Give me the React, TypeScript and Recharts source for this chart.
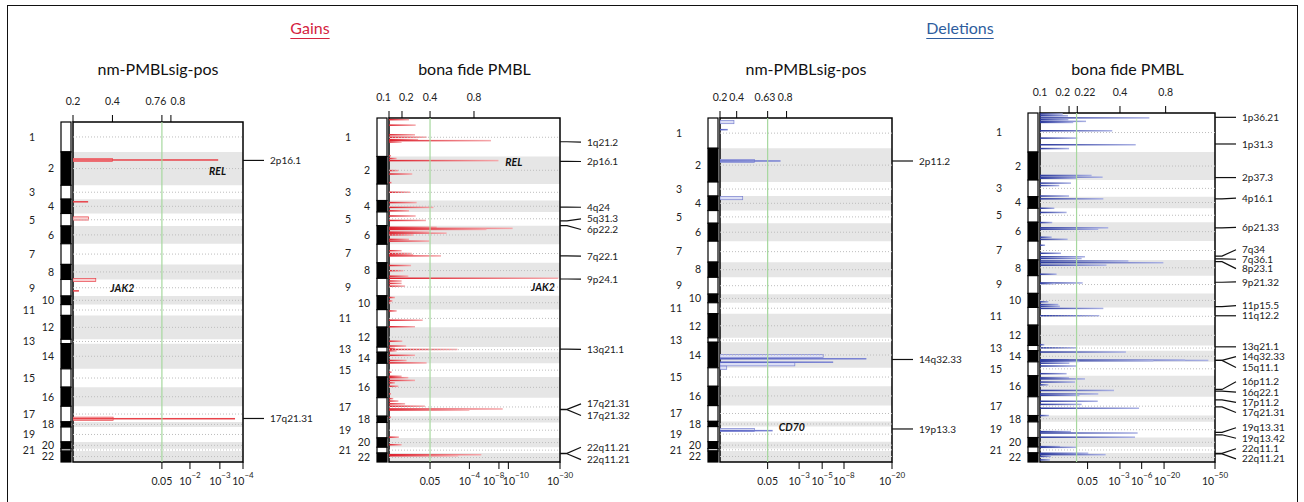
import React from "react";
import { ComposedChart, Bar, XAxis, YAxis, ReferenceArea, ReferenceLine, ReferenceDot } from "recharts";

const chromNames = ["1", "2", "3", "4", "5", "6", "7", "8", "9", "10", "11", "12", "13", "14", "15", "16", "17", "18", "19", "20", "21", "22"];
const nmChromStart = [0, 88, 186, 227, 269, 306, 358, 419, 463, 512, 537, 569, 639, 652, 726, 780, 836, 882, 897, 941, 961, 968];
const bfChromStart = [0, 112, 192, 240, 273, 313, 367, 421, 466, 517, 557, 608, 666, 681, 713, 753, 813, 867, 885, 930, 957, 974];

// x values are in % of the plot width (the q-value / G-score axes are not linear)
// --- Gains, nm-PMBLsig-pos
const gNmPos = [113, 113, 236, 285, 466, 498, 874, 874];
const gNmScore = [23.2, 85.4, 8.9, 9.2, 13.4, 3.5, 23.6, 95.3];
const gNmBroad = [1, 0, 0, 1, 1, 0, 1, 0];
const gNmTopAt = [0, 23.2, 52.3, 57.6];
const gNmTopLabels = ["0.2", "0.4", "0.76", "0.8"];
const gNmQAt = [52.3, 68.8, 86.4, 100];
const gNmQLabels = ["0.05", "10^-2", "10^-3", "10^-4"];
const gNmCut = 52.3;
const gNmPeaks = ["2p16.1", "17q21.31"];
const gNmPeakAt = [113, 872];
const gNmPeakLabelAt = [113, 872];
const gNmGenes = ["REL", "JAK2"];
const gNmGenePos = [144, 490];
const gNmGeneScore = [85, 29];

// --- Gains, bona fide PMBL
const gBfPos = [5, 21, 49, 56, 63, 66, 70, 110, 118, 124, 153, 163, 188, 216, 246, 260, 270, 285, 298, 318, 321, 324, 332, 335, 340, 353, 358, 386, 394, 398, 401, 429, 444, 460, 466, 474, 481, 489, 522, 532, 539, 561, 588, 607, 649, 663, 670, 673, 677, 690, 705, 712, 739, 751, 755, 763, 770, 780, 802, 816, 823, 831, 838, 846, 849, 870, 928, 950, 979, 982];
const gBfScore = [11.7, 15.6, 15.2, 22, 17, 59.6, 7.4, 1.2, 4.5, 64, 5.5, 13.6, 1.6, 12.3, 16.2, 26, 11.7, 15.6, 21.6, 27.9, 72.3, 57, 23.6, 33.7, 14.2, 11.7, 23.6, 7.4, 13.3, 14.2, 30.4, 12.9, 8.4, 11.3, 99, 7.4, 7.4, 9.4, 3.5, 2.1, 0.8, 4.5, 19.7, 15.2, 7.8, 10, 3.5, 40, 4.5, 15.2, 10.3, 22, 1.6, 7.4, 11.3, 15.2, 3.5, 5.5, 1.2, 2.5, 5.5, 9.4, 21, 66.5, 47, 1.2, 5.8, 7.4, 54, 40.5];
const gBfTopAt = [0, 7.6, 24, 49.7];
const gBfTopLabels = ["0.1", "0.2", "0.4", "0.8"];
const gBfQAt = [24, 47, 64.3, 69.8, 100];
const gBfQLabels = ["0.05", "10^-4", "10^-8", "10^-10", "10^-30"];
const gBfCut = 24;
const gBfPeaks = ["1q21.2", "2p16.1", "4q24", "5q31.3", "6p22.2", "7q22.1", "9p24.1", "13q21.1", "17q21.31", "17q21.32", "22q11.21", "22q11.21"];
const gBfPeakAt = [69, 126, 259, 299, 313, 401, 468, 672, 847, 848, 975, 976];
const gBfPeakLabelAt = [70, 126.5, 259.5, 293, 324, 401.5, 468.5, 672.5, 831, 865, 957, 993];
const gBfGenes = ["REL", "JAK2"];
const gBfGenePos = [128, 491];
const gBfGeneScore = [73, 90];

// --- Deletions, nm-PMBLsig-pos
const dNmPos = [12, 34, 125, 125, 233, 692, 716, 726, 700, 710, 907, 909];
const dNmScore = [8.1, 4.5, 20, 35.2, 13.2, 60, 43.5, 3.9, 85.1, 65.8, 20, 30.6];
const dNmBroad = [1, 0, 1, 0, 1, 1, 1, 1, 0, 0, 1, 0];
const dNmTopAt = [0, 9.7, 27.7, 38.7];
const dNmTopLabels = ["0.2", "0.4", "0.63", "0.8"];
const dNmQAt = [27.7, 46, 59.4, 72.1, 100];
const dNmQLabels = ["0.05", "10^-3", "10^-5", "10^-8", "10^-20"];
const dNmCut = 27.7;
const dNmPeaks = ["2p11.2", "14q32.33", "19p13.3"];
const dNmPeakAt = [125, 702, 904];
const dNmPeakLabelAt = [125, 702, 904];
const dNmGenes = ["CD70"];
const dNmGenePos = [899];
const dNmGeneScore = [41.8];

// --- Deletions, bona fide PMBL
const dBfPos = [3, 8, 14, 19, 24, 27, 51, 72, 91, 102, 179, 184, 187, 201, 208, 238, 246, 273, 285, 314, 329, 333, 356, 362, 379, 402, 412, 417, 424, 429, 436, 462, 487, 489, 541, 549, 554, 560, 581, 664, 673, 685, 707, 709, 708, 710, 712, 717, 725, 747, 759, 762, 771, 779, 795, 805, 809, 826, 835, 846, 867, 913, 917, 929, 956, 958, 975, 979, 984, 994];
const dBfScore = [13, 16, 62.5, 16.2, 26.3, 19, 41.3, 21.3, 54.7, 16.6, 29.5, 35.8, 20.6, 17.7, 11, 16.6, 36.2, 8.2, 15.2, 7, 39, 33.3, 6.7, 15.8, 2.9, 12, 25.7, 23.8, 50.5, 70.5, 38, 9.5, 24.4, 8.6, 4.8, 10.5, 11.4, 36.2, 33.9, 2.5, 21.3, 49.1, 16.6, 96.2, 82.9, 64.8, 22.5, 16.8, 21, 15.2, 16.6, 25.7, 20, 4.8, 42.3, 33.3, 22.5, 33, 23.8, 56.6, 5.1, 17.7, 55.8, 54.3, 11.4, 20.6, 27.6, 37.5, 6.3, 5.7];
const dBfTopAt = [0, 16.6, 21.3, 45.7, 71.8];
const dBfTopLabels = ["0.1", "0.2", "0.22", "0.4", "0.8"];
const dBfQAt = [27.2, 45.7, 58.1, 70.9, 100];
const dBfQLabels = ["0.05", "10^-3", "10^-6", "10^-20", "10^-50"];
const dBfCut = 20.9;
const dBfPeaks = ["1p36.21", "1p31.3", "2p37.3", "4p16.1", "6p21.33", "7q34", "7q36.1", "8p23.1", "9p21.32", "11p15.5", "11q12.2", "13q21.1", "14q32.33", "15q11.1", "16p11.2", "16q22.1", "17p11.2", "17q21.31", "19q13.31", "19q13.42", "22q11.1", "22q11.21"];
const dBfPeakAt = [12.4, 88.8, 185, 246, 329, 410, 418, 426, 485, 555, 581, 670, 709, 709, 792, 797, 822, 842, 915, 922, 975, 977];
const dBfPeakLabelAt = [12.4, 88.8, 185, 244, 327.6, 392, 419, 446, 484, 552, 581, 670, 698, 729, 770, 800, 829, 858, 902, 932, 962, 991];

const FONT = "Lato, 'Open Sans', sans-serif";

type Cfg = {
  left: number; top: number; w: number; h: number;
  starts: number[]; pos: number[]; score: number[]; broad?: number[];
  topAt: number[]; topLabels: string[]; topNudge: number[];
  qAt: number[]; qLabels: string[]; qNudge: number[]; cut: number;
  peaks: string[]; peakAt: number[]; peakLabelAt: number[];
  genes: string[]; genePos: number[]; geneScore: number[];
  line: string; fill: string; dark: string; light: string; gid: string;
};

const YW = 60, ML = 10, MR = 100, XH = 30;

function Panel({ c }: { c: Cfg }) {
  const ends = c.starts.slice(1).concat(1000);
  const mids = c.starts.map((s, i) => (s + ends[i]) / 2);
  const per = c.h / 1000;
  const pl = ML + YW;
  const rows = c.pos.map((p, i) => ({ pos: p, score: c.score[i], broad: c.broad ? c.broad[i] : 0 }));

  const spike = (p: any) => {
    const cy = p.y + p.height / 2;
    if (!p.width || p.width <= 0) return <g />;
    if (p.payload.broad)
      return <rect x={p.x} y={cy - 1.6} width={p.width} height={3.2} fill={c.fill} stroke={c.line} strokeWidth={0.7} />;
    return <rect x={p.x} y={cy - 0.75} width={p.width} height={1.5} fill={`url(#${c.gid})`} />;
  };

  const chromTick = (p: any) => {
    const i = mids.indexOf(p.payload.value);
    if (i < 0) return <g />;
    const y0 = p.y - (mids[i] - c.starts[i]) * per;
    const hh = (ends[i] - c.starts[i]) * per;
    const even = i % 2 === 1;
    return (
      <g>
        <rect x={pl - 12} y={y0} width={10} height={hh} fill={even ? "#000" : "#fff"} stroke="#000" strokeWidth={1.2} />
        <text x={even ? pl - 19 : pl - 38} y={p.y} dy="0.36em" textAnchor="end" fontSize={10.5} fill="#222">
          {chromNames[i]}
        </text>
      </g>
    );
  };

  const qTick = (p: any) => {
    const i = c.qAt.indexOf(p.payload.value);
    const lab = i >= 0 ? c.qLabels[i] : "";
    const x = p.x + (i >= 0 ? c.qNudge[i] : 0);
    const y = c.top + c.h + 23;
    if (lab.includes("^")) {
      const [base, exp] = lab.split("^");
      return (
        <text x={x} y={y} textAnchor="middle" fontSize={10.5} fill="#222">
          <tspan>{base}</tspan>
          <tspan dy={-7} fontSize={8}>{exp.replace("-", "\u2212")}</tspan>
        </text>
      );
    }
    return <text x={x} y={y} textAnchor="middle" fontSize={10.5} fill="#222">{lab}</text>;
  };

  const width = pl + c.w + MR;
  return (
    <div style={{ position: "absolute", left: c.left - pl, top: 0 }}>
      <ComposedChart
        width={width}
        height={502}
        data={rows}
        layout="vertical"
        margin={{ top: c.top, bottom: 502 - c.top - c.h - XH, left: ML, right: MR }}
      >
        <defs>
          <linearGradient id={c.gid} x1="0" y1="0" x2="1" y2="0">
            <stop offset="0%" stopColor={c.dark} />
            <stop offset="100%" stopColor={c.light} />
          </linearGradient>
        </defs>
        <XAxis type="number" domain={[0, 100]} ticks={c.qAt} interval={0} axisLine={false} tickSize={7}
          tickLine={{ stroke: "#000" }} tick={qTick} height={XH} allowDataOverflow />
        <YAxis type="number" dataKey="pos" domain={[0, 1000]} ticks={mids} interval={0}
          axisLine={false} tickLine={false} tick={chromTick} width={YW} allowDataOverflow />
        {c.starts.map((s, i) =>
          i % 2 === 1 ? (
            <ReferenceArea key={"band" + i} y1={s} y2={ends[i]} fill="#e6e6e6" fillOpacity={1} stroke="none" />
          ) : null
        )}
        {mids.map((m, i) => (
          <ReferenceLine key={"mid" + i} y={m} stroke="#bdbdbd" strokeDasharray="1 2" strokeWidth={1} />
        ))}
        <ReferenceLine x={c.cut} stroke="#a6d89e" strokeWidth={1.2} />
        <Bar dataKey="score" barSize={2} shape={spike} isAnimationActive={false} />
        {c.genes.map((g, i) => (
          <ReferenceDot key={"gene" + i} x={c.geneScore[i]} y={c.genePos[i]} r={1}
            shape={(s: any) => (
              <text x={s.cx} y={s.cy} dy="0.36em" textAnchor="middle" fontSize={10.5} fontWeight={700}
                fontStyle="italic" fill="#111">{g}</text>
            )} />
        ))}
        {/* G-score axis along the top */}
        {c.topAt.map((t, i) => (
          <ReferenceDot key={"top" + i} x={t} y={0} r={1} ifOverflow="visible"
            shape={(s: any) => (
              <g>
                <line x1={s.cx} x2={s.cx} y1={s.cy} y2={s.cy - 7} stroke="#000" strokeWidth={1} />
                <text x={s.cx + c.topNudge[i]} y={s.cy - 17.5} textAnchor="middle" fontSize={10.5} fill="#222">
                  {c.topLabels[i]}
                </text>
              </g>
            )} />
        ))}
        {/* peak cytoband labels on the right */}
        {c.peaks.map((name, i) => (
          <ReferenceDot key={"peak" + i} x={100} y={c.peakAt[i]} r={1} ifOverflow="visible"
            shape={(s: any) => {
              const ly = s.cy + (c.peakLabelAt[i] - c.peakAt[i]) * per;
              return (
                <g>
                  <path d={`M${s.cx},${s.cy}H${s.cx + 7}L${s.cx + 21},${ly}`} stroke="#111" strokeWidth={1.2} fill="none" />
                  <text x={s.cx + 27} y={ly} dy="0.36em" fontSize={10} fill="#222">{name}</text>
                </g>
              );
            }} />
        ))}
        <ReferenceArea x1={0} x2={100} y1={0} y2={1000} fill="none" stroke="#000" strokeWidth={1.5} ifOverflow="visible" />
      </ComposedChart>
    </div>
  );
}

const red = { line: "#e8434a", fill: "#fad0d1", dark: "#dd1f2b", light: "#f5a9ac" };
const blue = { line: "#7a82d0", fill: "#dcdff5", dark: "#2a389c", light: "#aab1e4" };

const panels: Cfg[] = [
  { left: 73, top: 122, w: 170, h: 340, starts: nmChromStart, pos: gNmPos, score: gNmScore, broad: gNmBroad,
    topAt: gNmTopAt, topLabels: gNmTopLabels, topNudge: [0, 0, -6, 7],
    qAt: gNmQAt, qLabels: gNmQLabels, qNudge: [0, 0, 0, 0], cut: gNmCut,
    peaks: gNmPeaks, peakAt: gNmPeakAt, peakLabelAt: gNmPeakLabelAt, genes: gNmGenes, genePos: gNmGenePos,
    geneScore: gNmGeneScore, ...red, dark: "#e8434a", light: "#e8434a", gid: "g1" },
  { left: 389, top: 118, w: 171, h: 344, starts: bfChromStart, pos: gBfPos, score: gBfScore,
    topAt: gBfTopAt, topLabels: gBfTopLabels, topNudge: [-5.5, 4.3, 0, 0],
    qAt: gBfQAt, qLabels: gBfQLabels, qNudge: [0, 0, -5.3, 7.5, 0], cut: gBfCut,
    peaks: gBfPeaks, peakAt: gBfPeakAt, peakLabelAt: gBfPeakLabelAt, genes: gBfGenes, genePos: gBfGenePos,
    geneScore: gBfGeneScore, ...red, gid: "g2" },
  { left: 720, top: 118, w: 172, h: 344, starts: nmChromStart, pos: dNmPos, score: dNmScore, broad: dNmBroad,
    topAt: dNmTopAt, topLabels: dNmTopLabels, topNudge: [0, 0, -2.7, -1.4],
    qAt: dNmQAt, qLabels: dNmQLabels, qNudge: [0, 0, 0, 0, 0], cut: dNmCut,
    peaks: dNmPeaks, peakAt: dNmPeakAt, peakLabelAt: dNmPeakLabelAt, genes: dNmGenes, genePos: dNmGenePos,
    geneScore: dNmGeneScore, ...blue, dark: "#5560c2", light: "#7c85d4", gid: "g3" },
  { left: 1040, top: 113, w: 175, h: 349, starts: bfChromStart, pos: dBfPos, score: dBfScore,
    topAt: dBfTopAt, topLabels: dBfTopLabels, topNudge: [0, -6.2, 7.7, 0, 0],
    qAt: dBfQAt, qLabels: dBfQLabels, qNudge: [0, -1, 0, 3, 0], cut: dBfCut,
    peaks: dBfPeaks, peakAt: dBfPeakAt, peakLabelAt: dBfPeakLabelAt, genes: [], genePos: [], geneScore: [],
    ...blue, gid: "g4" },
];

const titles = ["nm-PMBLsig-pos", "bona fide PMBL", "nm-PMBLsig-pos", "bona fide PMBL"];

export default function App() {
  return (
    <div style={{ position: "relative", width: 1304, height: 502, overflow: "hidden", background: "#fff", fontFamily: FONT }}>
      <style>{"body{margin:0}"}</style>
      <div style={{ position: "absolute", left: 7, top: 5, width: 1291, height: 520, border: "1.5px solid #111", boxSizing: "border-box" }} />
      <div style={{ position: "absolute", left: 210, width: 200, top: 20, textAlign: "center", fontSize: 16, lineHeight: "16px", color: "#d4233f", textDecoration: "underline", textUnderlineOffset: 4 }}>Gains</div>
      <div style={{ position: "absolute", left: 860, width: 200, top: 20, textAlign: "center", fontSize: 16, lineHeight: "16px", color: "#2e5d9e", textDecoration: "underline", textUnderlineOffset: 4 }}>Deletions</div>
      {panels.map((c, i) => (
        <div key={"t" + i} style={{ position: "absolute", left: c.left + c.w / 2 - 100, width: 200, top: 61, textAlign: "center", fontSize: 16, lineHeight: "16px", color: "#111" }}>
          {titles[i]}
        </div>
      ))}
      {panels.map((c, i) => (
        <Panel key={i} c={c} />
      ))}
    </div>
  );
}
